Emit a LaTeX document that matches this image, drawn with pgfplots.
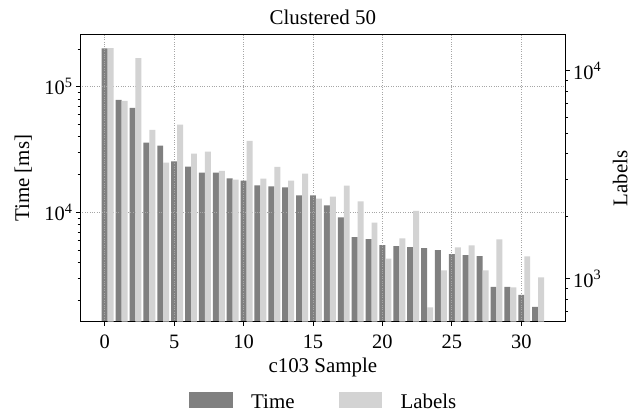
\documentclass[border=0pt]{standalone}
\usepackage{fontspec}
\setmainfont{Liberation Serif}
\usepackage{pgfplots}
\usepackage{pgfplotstable}
\pgfplotsset{compat=1.18}
\definecolor{darkc}{HTML}{808080}
\definecolor{lightc}{HTML}{D3D3D3}
\pgfplotstableread{
x time
0 202000
1 78500
2 67800
3 35800
4 33900
5 25400
6 23100
7 20700
8 20700
9 18600
10 17900
11 16400
12 16070
13 15770
14 13640
15 13640
16 11360
17 9130
18 6340
19 6110
20 5480
21 5380
22 5280
23 5190
24 5000
25 4650
26 4560
27 4480
28 2550
29 2550
30 2200
31 1770
}\timetab
\pgfplotstableread{
x labels
0.43 12850
1.43 7160
2.43 11500
3.43 5200
4.43 3610
5.43 5500
6.43 3990
7.43 4080
8.43 3300
9.43 2990
10.43 4600
11.43 3030
12.43 3450
13.43 2960
14.43 3200
15.43 2425
16.43 2480
17.43 2800
18.43 2350
19.43 1860
20.43 1250
21.43 1560
22.43 2120
23.43 728
24.43 1096
25.43 1413
26.43 1445
27.43 1096
28.43 1543
29.43 908
30.43 1280
31.43 1014
}\labtab
\newcommand{\fs}{\fontsize{21}{25}\selectfont}
\newcommand{\ft}{\fontsize{20.5}{24}\selectfont}
\pgfplotsset{mylegend/.style={legend image code/.code={\fill[##1] (0bp,-5.5bp) rectangle (43.7bp,9.9bp);}}}
\begin{document}
\begin{tikzpicture}
\pgfplotsset{
  every axis/.append style={
    scale only axis, width=485.7bp, height=287bp,
    xmin=-1.78, xmax=33.2, ymode=log, log origin=infty,
    /pgf/number format/assume math mode=true,
    tick align=outside, major tick length=4bp, minor tick length=2.3bp,
    every tick/.style={black, line width=0.8pt},
    minor tick style={line width=0.6pt},
    tick label style={font=\ft},
    label style={font=\fs},
    ybar, bar width=0.43, bar shift=0pt,
  }
}
\begin{axis}[
  axis line style={line width=0.9pt},
  xtick={0,5,...,30}, xtick pos=left, ytick pos=left,
  xticklabel style={anchor=base, yshift=-23.3bp},
  ymin=1349, ymax=259000,
  ytick={10000,100000}, yticklabels={10\textsuperscript{4},10\textsuperscript{5}},
  minor ytick={2000,3000,4000,5000,6000,7000,8000,9000,20000,30000,40000,50000,60000,70000,80000,90000,200000},
  xmajorgrids, ymajorgrids,
  grid style={dotted, color=black!35, line width=0.8pt},
  axis on top,
  title={Clustered 50}, title style={font=\fs, at={(axis description cs:0.5,1)}, anchor=base, yshift=4.7bp},
  xlabel={c103 Sample}, ylabel={Time [ms]},
  xlabel style={at={(axis description cs:0.5,0)}, anchor=base, yshift=-51.3bp},
  ylabel style={at={(axis description cs:-0.105,0.5)}, anchor=base},
  legend columns=2,
  legend style={draw=none, fill=none, inner sep=0pt,
    at={(axis description cs:0.2244,-0.246)}, anchor=north west, font=\fs,
    nodes={inner sep=0pt},
    /tikz/every odd column/.append style={column sep=18.3bp},
    /tikz/every even column/.append style={column sep=44bp}},
]
\addplot[fill=darkc, draw=none, mylegend] table[x=x, y=time] {\timetab};
\addlegendentry{Time}
\addlegendimage{fill=lightc, draw=none, mylegend}
\addlegendentry{Labels}
\end{axis}
\begin{axis}[
  axis x line=none, axis y line*=right,
  axis line style={line width=0.9pt},
  ymin=621, ymax=14900,
  ytick={1000,10000}, yticklabels={10\textsuperscript{3},10\textsuperscript{4}},
  minor ytick={700,800,900,2000,3000,4000,5000,6000,7000,8000,9000},
  ylabel={Labels},
  ylabel style={at={(axis description cs:1.1272,0.5)}, anchor=base},
]
\addplot[fill=lightc, draw=none] table[x=x, y=labels] {\labtab};
\end{axis}
\pgfresetboundingbox
\useasboundingbox (-80bp,-91.3bp) rectangle (551bp,321.7bp);
\end{tikzpicture}
\end{document}
